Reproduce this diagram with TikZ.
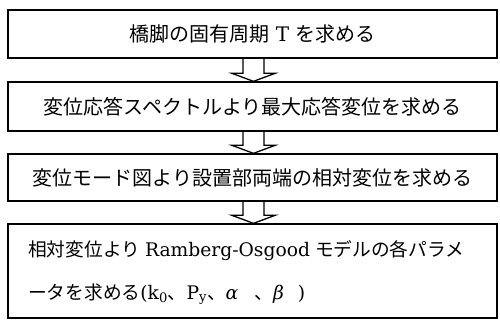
\documentclass[tikz,border=0pt]{standalone}
\usepackage{fontspec}
\setmainfont{DejaVu Serif}
\newfontfamily\jp{Noto Sans CJK JP}
\usetikzlibrary{calc}
\begin{document}
\begin{tikzpicture}[x=1pt,y=1pt,
  box/.style={draw=black,line width=1.3pt,fill=white,inner sep=0pt,minimum width=489pt,font=\fontsize{20pt}{24pt}\selectfont},
  txt/.style={inner sep=0pt,anchor=west,font=\fontsize{18.7pt}{23pt}\selectfont},
  arr/.style={draw=black,line width=1.3pt,line join=miter}]
\fill[white] (0,0) rectangle (500,-320);
\useasboundingbox (0,0) rectangle (500,-320);
\node[box,minimum height=48pt] (b1) at (252.5,-34) {{\jp 橋脚の固有周期} T {\jp を求める}};
\node[box,minimum height=49pt] (b2) at (252.5,-106.5) {\jp 変位応答スペクトルより最大応答変位を求める};
\node[box,minimum height=47pt] (b3) at (252.5,-177.5) {\jp 変位モード図より設置部両端の相対変位を求める};
\node[box,minimum height=94pt] (b4) at (252.5,-271) {};
\node[txt] (t4a) at (28,-251) {{\jp 相対変位より}\hspace{5pt}Ramberg-Osgood\hspace{5pt}{\jp モデルの各パラメ}};
\node[txt] (t4b) at (28,-294) {{\jp ータを求める}(k\textsubscript{0}{\jp 、}P\textsubscript{y}{\jp 、}\textit{α}\hspace{16pt}{\jp 、}\textit{β}\hspace{14pt})};
\foreach \a/\b in {b1/b2,b2/b3,b3/b4}{
  \draw[arr] let \p1=(\a.south), \p2=(\b.north) in
    (243,\y1) -- (243,\y2+8pt) -- (232,\y2+8pt) -- (253.5,\y2) -- (275,\y2+8pt) -- (264,\y2+8pt) -- (264,\y1);
}
\end{tikzpicture}
\end{document}
